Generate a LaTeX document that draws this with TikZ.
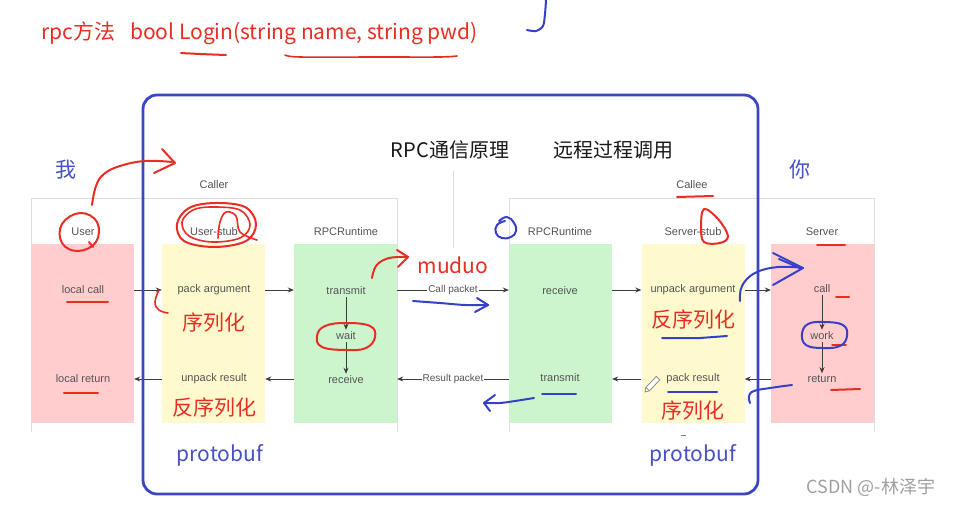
\documentclass[tikz,border=0pt]{standalone}
\usepackage{fontspec}
\setmainfont{Liberation Sans}
\newfontfamily\cjk{Noto Sans CJK SC}
\usetikzlibrary{arrows.meta}
\definecolor{hred}{RGB}{232,45,35}
\definecolor{hblue}{RGB}{55,65,200}
\definecolor{tblue}{RGB}{70,80,200}
\definecolor{fblue}{RGB}{60,70,190}
\definecolor{pinkc}{RGB}{255,205,205}
\definecolor{yelc}{RGB}{255,250,205}
\definecolor{grnc}{RGB}{205,245,205}
\definecolor{framec}{RGB}{222,222,222}
\definecolor{txtc}{RGB}{85,85,85}
\definecolor{arrc}{RGB}{60,60,60}
\definecolor{csdnc}{RGB}{160,160,160}
\tikzset{
  colbox/.style={draw=none, minimum width=103pt, minimum height=179pt, inner sep=0pt},
  lbl/.style={text=txtc, font=\fontsize{11}{13}\selectfont, inner sep=2pt},
  hdr/.style={text=txtc, font=\fontsize{11}{13}\selectfont, inner sep=1pt},
  pkt/.style={text=txtc, font=\fontsize{10}{12}\selectfont, fill=white, inner sep=1pt},
  arr/.style={draw=arrc, line width=0.8pt, -{Stealth[length=6pt,width=5pt]}},
  frm/.style={draw=framec, line width=0.9pt},
  htxt/.style={text=hred, font=\cjk\fontsize{21}{24}\selectfont, inner sep=0pt},
  btxt/.style={text=tblue, font=\cjk\fontsize{21}{24}\selectfont, inner sep=0pt},
  hr/.style={draw=hred, line width=2pt, line cap=round, line join=round},
  hb/.style={draw=hblue, line width=2pt, line cap=round, line join=round},
}
\begin{document}
\begin{tikzpicture}[x=1pt,y=-1pt]
\useasboundingbox (0,0) rectangle (956,504);
\fill[white] (0,0) rectangle (956,504);

% top line
\node[htxt, anchor=west] (method) at (41,33) {rpc方法\hspace{15pt}bool Login(string name, string pwd)};
\draw[hr] plot[smooth] coordinates {(181,53) (200,54) (226,55)};
\draw[hr, line width=1.6pt] plot[smooth] coordinates {(285,55) (300,57) (380,57) (440,57) (457,56)};
\draw[hb] plot[smooth] coordinates {(546,0) (545,14) (543,26) (536,31) (527,30)};

% outer gray frames
\draw[frm] (31,432) -- (31,198) -- (397,198) -- (397,432);
\draw[frm] (509,432) -- (509,198) -- (874,198) -- (874,432);
\draw[frm] (453,171) -- (453,248);

% column boxes
\node[colbox, fill=pinkc] (ub) at (82.5,333.5) {};
\node[colbox, fill=yelc] (sb) at (213.5,333.5) {};
\node[colbox, fill=grnc] (rc) at (345.5,333.5) {};
\node[colbox, fill=grnc] (re) at (560.5,333.5) {};
\node[colbox, fill=yelc] (ss) at (693,333.5) {};
\node[colbox, fill=pinkc] (sv) at (822.5,333.5) {};

% titles
\node[font=\cjk\fontsize{20}{24}\selectfont, text={rgb,255:red,25;green,25;blue,25}] (title1) at (450,150) {RPC通信原理};
\node[font=\cjk\fontsize{20}{24}\selectfont, text={rgb,255:red,25;green,25;blue,25}] (title2) at (613,150) {远程过程调用};
\node[hdr] (caller) at (214,185) {Caller};
\node[hdr] (callee) at (692,185) {Callee};

% headers
\node[hdr] (h1) at (83,232) {User};
\node[hdr] (h2) at (214,232) {User-stub};
\node[hdr] (h3) at (346,232) {RPCRuntime};
\node[hdr] (h4) at (560,232) {RPCRuntime};
\node[hdr] (h5) at (693,232) {Server-stub};
\node[hdr] (h6) at (822,232) {Server};

% row texts
\node[lbl] (lcall) at (83,290) {local call};
\node[lbl] (pack) at (214,290) {pack argument};
\node[lbl] (tm1) at (346,291) {transmit};
\node[lbl] (wt) at (346,336) {wait};
\node[lbl] (rv1) at (346,380) {receive};
\node[lbl] (rv2) at (560,291) {receive};
\node[lbl] (unpa) at (693,290) {unpack argument};
\node[lbl] (call) at (822,289) {call};
\node[lbl] (work) at (822,336) {work};
\node[lbl] (ret) at (822,379) {return};
\node[lbl] (lret) at (83,379) {local return};
\node[lbl] (unpr) at (214,379) {unpack result};
\node[lbl] (tm2) at (560,378) {transmit};
\node[lbl] (packr) at (693,379) {pack result};

% arrows row 1
\draw[arr] (ub.east |- lcall) -- (sb.west |- lcall);
\draw[arr] (sb.east |- lcall) -- (rc.west |- lcall);
\draw[arr] (rc.east |- lcall) -- node[pkt] (cp) {Call packet} (re.west |- lcall);
\draw[arr] (re.east |- lcall) -- (ss.west |- lcall);
\draw[arr] (ss.east |- lcall) -- (sv.west |- lcall);
% arrows row 2
\draw[arr] (sb.west |- lret) -- (ub.east |- lret);
\draw[arr] (rc.west |- lret) -- (sb.east |- lret);
\draw[arr] (re.west |- lret) -- node[pkt] (rp) {Result packet} (rc.east |- lret);
\draw[arr] (ss.west |- lret) -- (re.east |- lret);
\draw[arr] (sv.west |- lret) -- (ss.east |- lret);
% vertical arrows
\draw[arr] (tm1.south) -- (wt.north);
\draw[arr] (wt.south) -- (rv1.north);
\draw[arr] (call.south) -- (work.north);
\draw[arr] (work.south) -- (ret.north);

% pencil icon and dash
\draw[gray, line width=0.7pt, fill=white] (645,392) -- (645.9,387.4) -- (656.2,376.4) -- (659.8,379.8) -- (649.5,390.8) -- cycle;
\draw[gray, line width=0.7pt] (645.9,387.4) -- (649.5,390.8);
\draw[gray, line width=0.8pt] (681,435) -- (686,435);

% blue frame
\draw[fblue, line width=2.8pt, rounded corners=14pt] (143,95) rectangle (758,494);

% handwritten texts
\node[btxt] (wo) at (66,170) {我};
\node[btxt] (ni) at (800,170) {你};
\node[htxt] (muduo) at (453,265) {muduo};
\node[htxt] (ser1) at (214,323) {序列化};
\node[htxt] (deser1) at (214,408) {反序列化};
\node[htxt] (deser2) at (693,320) {反序列化};
\node[htxt] (ser2) at (693,411) {序列化};
\node[btxt] (pb1) at (220,455) {protobuf};
\node[btxt] (pb2) at (693,455) {protobuf};
\node[text=csdnc, font=\cjk\fontsize{18}{20}\selectfont, inner sep=0pt] (csdn) at (871,487) {CSDN @-林泽宇};

% red strokes (caller side)
\draw[hr] plot[smooth cycle, tension=0.7] coordinates {(80,213) (97,222) (96,242) (78,251) (62,243) (62,224)};
\draw[hr] (89,242) -- (93,247);
\draw[hr] plot[smooth, tension=0.7] coordinates {(92,205) (96,186) (104,174) (120,166) (145,161) (172,162)};
\draw[hr] (162,149) -- (175,163) -- (154,173);
\draw[hr] plot[smooth cycle, tension=0.6] coordinates {(215,203) (245,207) (256,224) (246,241) (214,247) (184,241) (177,224) (189,208)};
\draw[hr, line width=1.6pt] plot[smooth cycle, tension=0.6] coordinates {(212,207) (240,210) (250,225) (240,238) (212,242) (189,236) (182,222) (193,210)};
\draw[hr, line width=1.6pt] plot[smooth, tension=0.6] coordinates {(218,238) (220,222) (226,212) (236,216) (240,232) (257,240)};
\draw[hr] plot[smooth cycle, tension=0.7] coordinates {(346,323) (370,326) (375,337) (366,348) (346,350) (322,347) (317,336) (325,326)};
\draw[hr] plot[smooth, tension=0.7] coordinates {(372,278) (376,266) (386,259) (398,257) (407,257)};
\draw[hr] (397,250) -- (408,257) -- (398,267);
\draw[hr, line width=1.6pt] plot[smooth, tension=0.7] coordinates {(159,290) (155,302) (159,310) (168,313)};
\draw[hr] (67,302) -- (108,302);
\draw[hr] (64,393) -- (98,393);

% red strokes (callee side)
\draw[hr] (677,197) -- (713,196);
\draw[hr] plot[smooth cycle, tension=0.6] coordinates {(704,209) (718,219) (728,236) (720,243) (704,242) (701,227)};
\draw[hr] (817,245) -- (845,245);
\draw[hr] (836,297) -- (849,297);
\draw[hr, line width=1.5pt] (832,345) -- (846,345);
\draw[hr] (831,390) -- (860,389);

% blue strokes
\draw[hb] plot[smooth, tension=0.8] coordinates {(499,221) (507,217) (514,223) (516,231) (511,237) (502,238) (496,233) (497,225) (505,221)};
\draw[hb] plot[smooth] coordinates {(413,301) (440,303) (465,305) (488,305)};
\draw[hb] (477,298) -- (488,305) -- (475,312);
\draw[hb] plot[smooth] coordinates {(534,398) (515,401) (500,403) (484,403)};
\draw[hb] (495,395) -- (484,403) -- (490,411);
\draw[hb] (542,394) -- (576,394);
\draw[hb] (662,338) -- (700,338) -- (727,336);
\draw[hb] (668,392) -- (717,392);
\draw[hb] plot[smooth, tension=0.7] coordinates {(740,301) (742,286) (755,273) (778,267) (803,268)};
\draw[hb] (773,253) -- (803,268) -- (773,285);
\draw[hb] (779,259) -- (800,268);
\draw[hb] plot[smooth, tension=0.7] coordinates {(792,385) (770,388) (754,391) (749,396) (750,403)};
\draw[hb] plot[smooth cycle, tension=0.7] coordinates {(824,322) (843,325) (847,336) (840,346) (822,348) (806,345) (802,334) (808,324)};
\end{tikzpicture}
\end{document}
